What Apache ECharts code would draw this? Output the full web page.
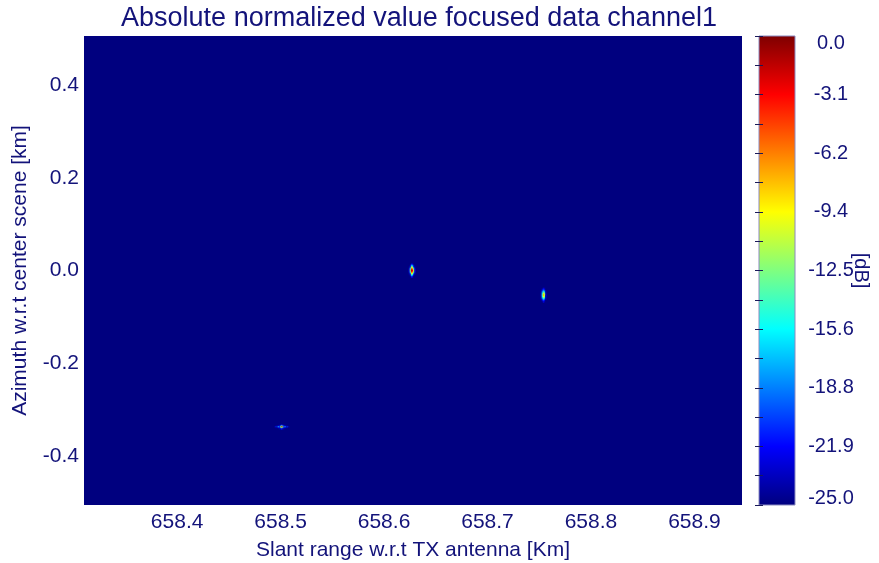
<!DOCTYPE html>
<html>
<head>
<meta charset="utf-8">
<script src="https://cdn.jsdelivr.net/npm/echarts@6/dist/echarts.min.js"></script>
<style>
  html, body { margin: 0; padding: 0; background: #ffffff; }
  #chart { width: 879px; height: 563px; }
</style>
</head>
<body>
<div id="chart"></div>
<script>
// Axis extents and tick labels
const rangeExtent = [658.310, 658.946];
const azimuthExtent = [-0.506, 0.506];
const rangeTicks = [658.4, 658.5, 658.6, 658.7, 658.8, 658.9];
const azimuthTicks = [-0.4, -0.2, 0.0, 0.2, 0.4];
const dbExtent = [-25, 0];
const dbTickLabels = ['-25.0', '-21.9', '-18.8', '-15.6', '-12.5', '-9.4', '-6.2', '-3.1', '0.0'];

// Jet colour scale
const jetColors = ['#00007f', '#0000ff', '#00ffff', '#ffff00', '#ff0000', '#7f0000'];
const jetStops = [0, 0.125, 0.375, 0.625, 0.875, 1];

// Sample spacing of the focused image (km)
const cellRange = 0.0011;
const cellAzimuth = 0.002;

// Point target centres
const targetCenterRange = [658.627, 658.754, 658.501];
const targetCenterAzimuth = [0.0, -0.053, -0.3375];

// Focused responses in dB; rows go from high to low azimuth, columns from near to far range
const targetA = [
  [-25, -25, -21, -22, -25, -25],
  [-25, -24, -18, -19, -24, -25],
  [-25, -22, -15, -16, -22, -25],
  [-24, -20, -12, -13, -20, -24],
  [-24, -18, -10, -11, -17, -24],
  [-23, -15,  -7,  -8, -14, -23],
  [-22, -13,  -5,  -6, -12, -22],
  [-22, -12,  -3,  -4, -11, -22],
  [-22, -13,  -5,  -6, -12, -22],
  [-23, -15,  -7,  -8, -14, -23],
  [-24, -18, -10, -11, -17, -24],
  [-24, -20, -12, -13, -20, -24],
  [-25, -22, -15, -16, -22, -25],
  [-25, -24, -18, -19, -24, -25],
  [-25, -25, -21, -22, -25, -25]
];
const targetB = [
  [-25, -25, -22, -24, -25],
  [-25, -23, -20, -22, -25],
  [-25, -21, -18, -20, -25],
  [-24, -19, -16, -18, -24],
  [-24, -17, -14, -16, -24],
  [-23, -16, -12, -14, -23],
  [-23, -15, -10, -12, -23],
  [-22, -14,  -9, -11, -22],
  [-22, -14,  -9, -11, -22],
  [-23, -15, -10, -12, -23],
  [-23, -16, -12, -14, -23],
  [-24, -17, -14, -16, -24],
  [-24, -19, -16, -18, -24],
  [-25, -21, -18, -20, -25],
  [-25, -23, -20, -22, -25],
  [-25, -25, -22, -24, -25]
];
const targetC = [
  [-25, -25, -25, -25, -24, -23, -20, -23, -24, -25, -25, -25, -25],
  [-25, -24, -23, -22, -20, -17, -12, -17, -20, -22, -23, -24, -25],
  [-23, -19, -22, -15, -19,  -9,  -2,  -9, -19, -15, -22, -19, -23],
  [-25, -24, -23, -22, -20, -17, -12, -17, -20, -22, -23, -24, -25],
  [-25, -25, -25, -25, -24, -23, -20, -23, -24, -25, -25, -25, -25]
];
const targets = [targetA, targetB, targetC];

// Flatten every response into [range, azimuth, dB] cells
const cells = [];
targets.forEach(function (grid, t) {
  const rows = grid.length;
  const cols = grid[0].length;
  grid.forEach(function (row, r) {
    row.forEach(function (db, c) {
      cells.push([
        targetCenterRange[t] + (c - (cols - 1) / 2) * cellRange,
        targetCenterAzimuth[t] - (r - (rows - 1) / 2) * cellAzimuth,
        db
      ]);
    });
  });
});

const textColor = '#13137a';
const tickColor = '#1a1a5a';
const fontFamily = '"Liberation Sans", Arial, Helvetica, sans-serif';

const chart = echarts.init(document.getElementById('chart'), null, { renderer: 'canvas' });

const cbarTick = { show: true, inside: true, length: 4, lineStyle: { color: tickColor, width: 1 } };
const cbarMinor = { show: true, splitNumber: 2, length: 4, lineStyle: { color: tickColor, width: 1 } };

chart.setOption({
  animation: false,
  backgroundColor: '#ffffff',
  title: {
    text: 'Absolute normalized value focused data channel1',
    left: 414,
    top: 0,
    textAlign: 'center',
    textStyle: { color: textColor, fontFamily: fontFamily, fontSize: 27, fontWeight: 'normal' }
  },
  grid: [
    {
      left: 84, top: 36, width: 658, height: 469, containLabel: false, outerBoundsMode: 'none',
      show: true, backgroundColor: jetColors[0], borderWidth: 0
    },
    { left: 759, top: 36, width: 36, height: 469, containLabel: false, outerBoundsMode: 'none', show: false }
  ],
  xAxis: [
    {
      type: 'value', gridIndex: 0, min: rangeExtent[0], max: rangeExtent[1],
      name: 'Slant range w.r.t TX antenna [Km]', nameLocation: 'middle', nameGap: 35, nameMoveOverlap: false,
      nameTextStyle: { color: textColor, fontFamily: fontFamily, fontSize: 21 },
      axisLine: { show: false }, axisTick: { show: false }, splitLine: { show: false },
      axisLabel: {
        customValues: rangeTicks, color: textColor, fontFamily: fontFamily, fontSize: 21, margin: 7,
        formatter: function (v) { return v.toFixed(1); }
      }
    },
    { type: 'value', gridIndex: 1, min: 0, max: 1, show: false }
  ],
  yAxis: [
    {
      type: 'value', gridIndex: 0, min: azimuthExtent[0], max: azimuthExtent[1],
      name: 'Azimuth w.r.t center scene [km]', nameLocation: 'middle', nameGap: 53, nameMoveOverlap: false,
      nameTextStyle: { color: textColor, fontFamily: fontFamily, fontSize: 21 },
      axisLine: { show: false }, axisTick: { show: false }, splitLine: { show: false },
      axisLabel: {
        customValues: azimuthTicks, color: textColor, fontFamily: fontFamily, fontSize: 21, margin: 5,
        formatter: function (v) { return v.toFixed(1); }
      }
    },
    {
      type: 'value', gridIndex: 1, position: 'right', min: dbExtent[0], max: dbExtent[1], interval: 3.125, z: 10,
      name: '[dB]', nameLocation: 'middle', nameRotate: -90, nameGap: 56, nameMoveOverlap: false,
      nameTextStyle: { color: textColor, fontFamily: fontFamily, fontSize: 20 },
      axisLine: { show: false }, splitLine: { show: false },
      axisTick: cbarTick,
      minorTick: cbarMinor,
      axisLabel: {
        color: textColor, fontFamily: fontFamily, fontSize: 20, margin: 36, align: 'center', lineHeight: 14,
        verticalAlignMinLabel: 'bottom', verticalAlignMaxLabel: 'top',
        formatter: function (v, i) { return dbTickLabels[i]; }
      }
    },
    {
      type: 'value', gridIndex: 1, position: 'left', min: dbExtent[0], max: dbExtent[1], interval: 3.125, z: 10,
      axisLine: { show: false }, splitLine: { show: false }, axisLabel: { show: false },
      axisTick: cbarTick,
      minorTick: cbarMinor
    }
  ],
  visualMap: {
    show: false,
    type: 'continuous',
    seriesIndex: 0,
    dimension: 2,
    min: dbExtent[0],
    max: dbExtent[1],
    inRange: { color: jetColors }
  },
  series: [
    {
      type: 'custom',
      xAxisIndex: 0,
      yAxisIndex: 0,
      clip: true,
      dimensions: ['range', 'azimuth', 'dB'],
      encode: { x: 0, y: 1 },
      data: cells,
      renderItem: function (params, api) {
        const c = api.coord([api.value(0), api.value(1)]);
        const s = api.size([cellRange, cellAzimuth]);
        return {
          type: 'rect',
          shape: { x: c[0] - s[0] / 2, y: c[1] - s[1] / 2, width: s[0] + 0.4, height: s[1] + 0.4 },
          style: { fill: api.visual('color') }
        };
      }
    },
    {
      // Colour bar
      type: 'custom',
      xAxisIndex: 1,
      yAxisIndex: 1,
      z: 1,
      data: [[0, dbExtent[0], 1, dbExtent[1]]],
      renderItem: function (params, api) {
        const p0 = api.coord([api.value(0), api.value(1)]);
        const p1 = api.coord([api.value(2), api.value(3)]);
        const stops = jetStops.map(function (o, i) { return { offset: o, color: jetColors[i] }; });
        const shape = { x: p0[0], y: p1[1], width: p1[0] - p0[0], height: p0[1] - p1[1] };
        return {
          type: 'group',
          children: [
            { type: 'rect', shape: shape, style: { fill: new echarts.graphic.LinearGradient(0, 1, 0, 0, stops) } },
            { type: 'rect', shape: shape, style: { fill: 'none', stroke: '#8a8ac0', lineWidth: 1 } }
          ]
        };
      }
    }
  ]
});
</script>
</body>
</html>
